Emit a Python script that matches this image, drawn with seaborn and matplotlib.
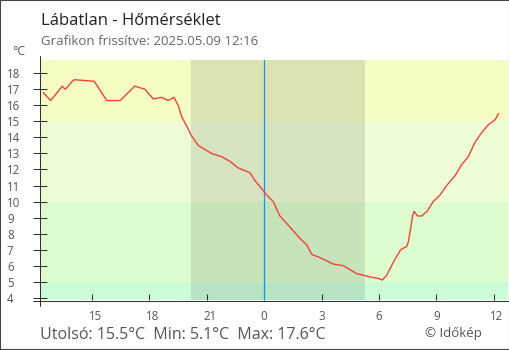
import matplotlib
matplotlib.use("Agg")
import matplotlib.pyplot as plt
import seaborn as sns
import pandas as pd
from matplotlib.lines import Line2D
from matplotlib.patches import Rectangle
from matplotlib.transforms import ScaledTranslation

# --- data -------------------------------------------------------------
# clock times of the readings (previous day noon -> today noon)
times = [
    "12:27", "12:50", "13:27", "13:36", "13:58", "14:05", "15:07", "15:46",
    "16:28", "17:14", "17:46", "18:12", "18:38", "18:59", "19:17", "19:30",
    "19:41", "19:57", "20:12", "20:33", "21:15", "21:46", "22:13", "22:38",
    "23:15", "23:31", "23:52", "00:08", "00:28", "00:49", "01:21", "01:52",
    "02:13", "02:29", "02:55", "03:36", "04:08", "04:50", "05:31", "05:58",
    "06:10", "06:24", "06:34", "06:50", "07:08", "07:27", "07:32", "07:39",
    "07:45", "07:50", "08:00", "08:14", "08:31", "08:50", "09:11", "09:32",
    "09:58", "10:19", "10:40", "11:01", "11:22", "11:43", "12:04", "12:15",
]
temps = [
    16.8, 16.3, 17.2, 17.0, 17.5, 17.6, 17.5, 16.3,
    16.3, 17.2, 17.0, 16.4, 16.5, 16.3, 16.5, 16.0,
    15.3, 14.7, 14.1, 13.5, 13.0, 12.8, 12.5, 12.1,
    11.8, 11.3, 10.8, 10.4, 10.0, 9.1, 8.4, 7.7,
    7.3, 6.7, 6.5, 6.1, 6.0, 5.5, 5.3, 5.2,
    5.1, 5.4, 5.8, 6.4, 7.0, 7.2, 7.5, 8.3,
    9.1, 9.4, 9.1, 9.1, 9.4, 10.0, 10.4, 11.0,
    11.6, 12.3, 12.8, 13.7, 14.3, 14.8, 15.1, 15.5,
]
sunset, sunrise = "20:10", "05:16"
tick_hours = [15, 18, 21, 0, 3, 6, 9, 12]
y_ticks = list(range(4, 19))
band_edges = [3.857, 5, 10, 15, 18.83]
band_colors = ["#cbfdd8", "#defdcf", "#effdd6", "#f5fdc4"]

title = "Lábatlan - Hőmérséklet"
subtitle = "Grafikon frissítve: 2025.05.09 12:16"
unit = "°C"
footer = "Utolsó: 15.5°C  Min: 5.1°C  Max: 17.6°C"
credit = "© Időkép"


def clock_to_hours(t, prev_day):
    h, m = map(int, t.split(":"))
    val = h + m / 60
    return val - 24 if prev_day else val


# readings before midnight belong to the previous day
hours = []
prev = True
last = None
for t in times:
    h, m = map(int, t.split(":"))
    if last is not None and h * 60 + m < last:
        prev = False
    last = h * 60 + m
    hours.append(clock_to_hours(t, prev))

df = pd.DataFrame({"hour": hours, "temp": temps})

# --- figure -----------------------------------------------------------
W, H, DPI = 510, 350, 100
sns.set_theme(style="white")
plt.rcParams["font.family"] = ["Open Sans", "DejaVu Sans"]

fig = plt.figure(figsize=(W / DPI, H / DPI), dpi=DPI, facecolor="white")
ax = fig.add_axes([40 / W, (H - 300) / H, 468 / W, 240 / H])
ax.set_facecolor("none")

# temperature bands
for lo, hi, c in zip(band_edges[:-1], band_edges[1:], band_colors):
    ax.axhspan(lo, hi, color=c, lw=0, zorder=0)

# night shading and midnight marker
ax.axvspan(clock_to_hours(sunset, True), clock_to_hours(sunrise, False),
           color="black", alpha=0.1, lw=0, zorder=1)
ax.axvline(0, color="#1e90f0", lw=0.9, zorder=4)

sns.lineplot(data=df, x="hour", y="temp", ax=ax, color="#f0433a",
             linewidth=1.0, zorder=5)

ax.set_xlim(-11.72, 12.74)
ax.set_ylim(band_edges[0], band_edges[-1])
ax.set_xlabel("")
ax.set_ylabel("")
for s in ax.spines.values():
    s.set_visible(False)

tick_pos = [h - 24 if h > 12 else h for h in tick_hours]
ax.set_xticks(tick_pos)
ax.set_xticklabels([str(h) for h in tick_hours])
ax.set_yticks(y_ticks)
ax.set_yticklabels([str(v) for v in y_ticks])

ax.tick_params(axis="y", direction="inout", length=9.4, width=0.75,
               color="#333333", labelsize=8.3, labelcolor="#555555",
               pad=19.1, left=True)
ax.tick_params(axis="x", direction="in", length=4.3, width=0.75,
               color="#333333", labelsize=8.3, labelcolor="#555555",
               pad=7.5, bottom=True)
for lab in ax.get_yticklabels():
    lab.set_ha("left")
shift = ScaledTranslation(-3.5 / DPI, 0, fig.dpi_scale_trans)
for lab in ax.get_xticklabels():
    lab.set_ha("left")
    lab.set_transform(lab.get_transform() + shift)

# axis lines
fig.add_artist(Line2D([40.5 / W, 40.5 / W], [(H - 306) / H, (H - 56) / H],
                      color="#333333", lw=0.75))
fig.add_artist(Line2D([33 / W, 508 / W], [(H - 300.5) / H, (H - 300.5) / H],
                      color="#333333", lw=0.75))

# texts
fig.text(41 / W, (H - 25) / H, title, fontsize=12, color="#222222",
         va="baseline", ha="left")
fig.text(41 / W, (H - 45) / H, subtitle, fontsize=9.5, color="#666666",
         va="baseline", ha="left")
fig.text(12 / W, (H - 55) / H, unit, fontsize=8.8, color="#555555",
         va="baseline", ha="left")
fig.text(40 / W, (H - 339) / H, footer, fontsize=11.5, color="#555555",
         va="baseline", ha="left")
fig.text(425 / W, (H - 337) / H, credit, fontsize=9.5, color="#555555",
         va="baseline", ha="left")

# outer frame
fig.add_artist(Rectangle((0, 0), 1, 1, transform=fig.transFigure,
                         fill=False, edgecolor="#444444", lw=1.5))

fig.savefig("out.png", dpi=DPI)
